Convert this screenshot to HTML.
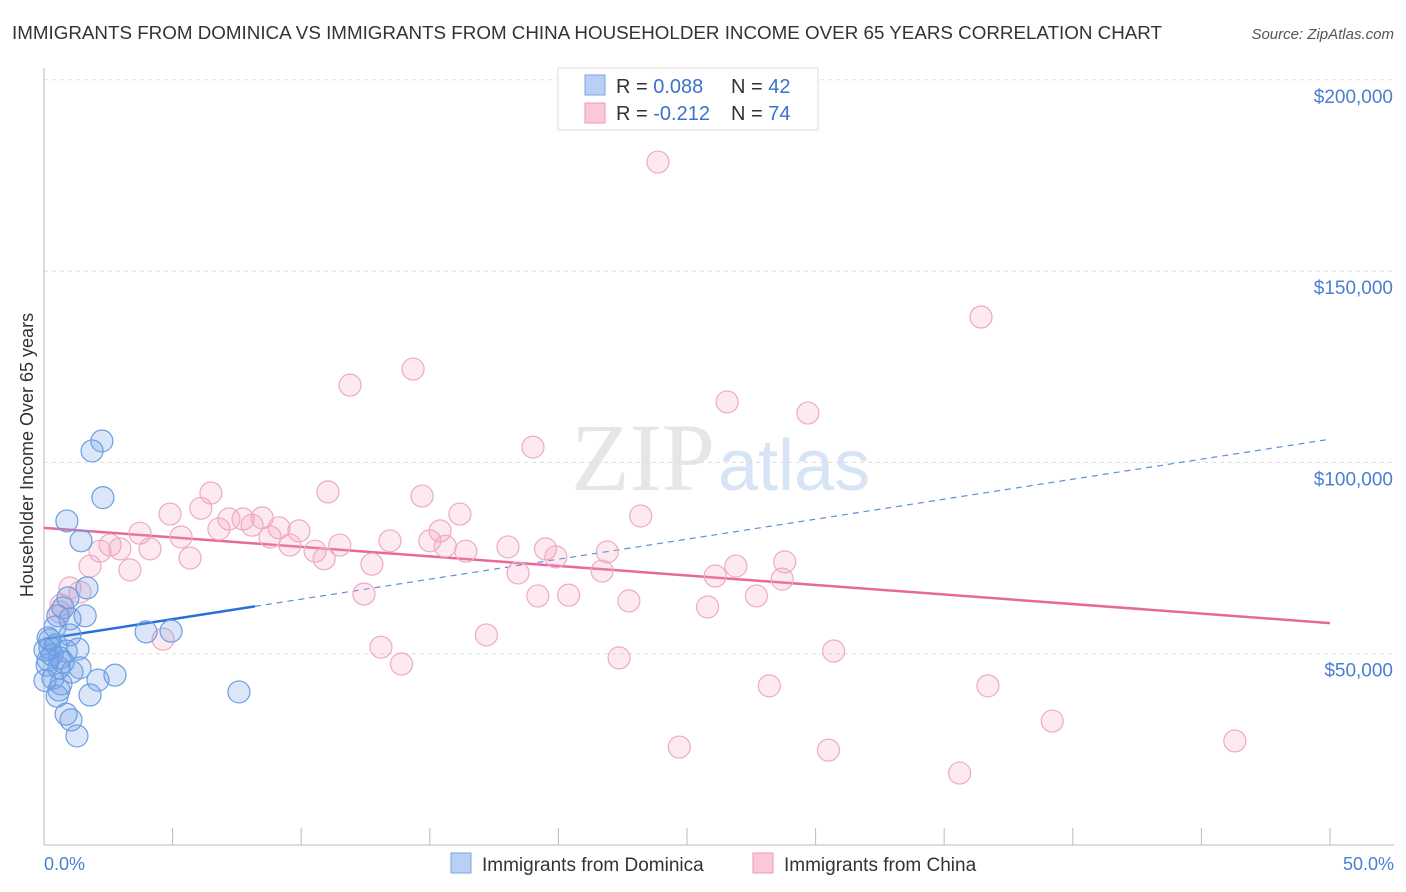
<!DOCTYPE html>
<html><head><meta charset="utf-8">
<style>
body{margin:0;background:#fff;font-family:"Liberation Sans",sans-serif;}
svg{display:block}
</style></head>
<body>
<svg id="chart" width="1406" height="892" xmlns="http://www.w3.org/2000/svg">
<text x="12" y="39" font-size="18" fill="#333" textLength="1150" lengthAdjust="spacingAndGlyphs">IMMIGRANTS FROM DOMINICA VS IMMIGRANTS FROM CHINA HOUSEHOLDER INCOME OVER 65 YEARS CORRELATION CHART</text>
<text x="1394" y="39" font-size="15" fill="#555" font-style="italic" text-anchor="end">Source: ZipAtlas.com</text>
<text x="715" y="490" font-size="96" fill="#e6e6e6" font-family="Liberation Serif" text-anchor="end">ZIP</text>
<text x="718" y="490" font-size="72" fill="#d6e4f5">atlas</text>
<g id="grid"></g>
<g id="axes"></g>
<g id="lines"></g>
<g id="pts"></g>
<text transform="translate(33,455) rotate(-90)" font-size="18" fill="#333" text-anchor="middle">Householder Income Over 65 years</text>
<text x="44" y="870" font-size="18" fill="#4a7fd0">0.0%</text>
<text x="1394" y="870" font-size="18" fill="#4a7fd0" text-anchor="end">50.0%</text>
<g>
<rect x="558" y="68" width="260" height="62" fill="#fff" stroke="#ddd"/>
<rect x="585" y="75" width="20" height="20" fill="#b8d0f4" stroke="#7aa4e0"/>
<rect x="585" y="103" width="20" height="20" fill="#fac8d6" stroke="#ee9ab4"/>
<text x="616" y="93" font-size="20" fill="#333">R = <tspan fill="#3a72cc">0.088</tspan><tspan x="731">N = </tspan><tspan fill="#3a72cc">42</tspan></text>
<text x="616" y="120" font-size="20" fill="#333">R = <tspan fill="#3a72cc">-0.212</tspan><tspan x="731">N = </tspan><tspan fill="#3a72cc">74</tspan></text>
</g>
<g>
<rect x="451" y="853" width="20" height="20" fill="#b8d0f4" stroke="#7aa4e0"/>
<text x="482" y="871" font-size="19" fill="#333">Immigrants from Dominica</text>
<rect x="753" y="853" width="20" height="20" fill="#fac8d6" stroke="#ee9ab4"/>
<text x="784" y="871" font-size="19" fill="#333">Immigrants from China</text>
</g>
</svg>
<script>
const yTicks=[50000,100000,150000,200000];
const yTickLabels=["$50,000","$100,000","$150,000","$200,000"];
const blueX=[2.25,1.87,2.29,0.89,1.44,1.67,0.74,0.93,1.6,1.01,0.54,0.43,1.01,3.97,4.94,0.16,1.32,0.86,0.23,0.16,0.62,0.74,1.09,0.58,2.76,2.1,0.35,0.66,0.58,1.79,0.51,7.58,0.86,1.05,1.28,0.04,0.12,0.23,0.31,0.47,0.04,1.4];
const blueY=[105.6,103,90.8,84.7,79.5,67.2,62,64.6,59.9,59.1,59.9,57,54.9,55.7,55.9,54.1,51.2,50.7,51.5,48.4,48.9,47.8,45.2,46.3,44.4,43.1,43.6,42.1,40.5,39.2,38.9,40,34.2,32.7,28.5,51,47,53.6,49.7,52.3,43,46.3];
const pinkX=[23.87,36.43,14.35,11.9,26.56,29.7,19.01,6.49,11.04,14.7,4.9,6.1,16.17,23.2,7.19,7.74,8.48,8.09,6.8,9.14,9.91,3.73,5.33,8.79,15.4,15.0,13.45,2.57,2.95,4.12,2.18,9.56,11.5,10.54,10.89,15.6,16.4,18.04,19.5,19.9,21.9,5.68,12.75,3.34,1.79,18.43,21.7,26.9,26.1,28.8,28.7,1.01,1.4,12.44,19.2,20.4,22.74,27.7,25.8,0.66,0.62,17.2,4.63,13.1,30.7,13.9,22.36,28.2,36.7,39.2,24.7,30.5,46.3,35.6];
const pinkY=[178.5,138,124.4,120.2,115.8,112.9,104,92,92.3,91.2,86.5,88,86.5,86,85.2,85.2,85.5,83.6,82.6,82.9,82.1,81.5,80.5,80.5,82.1,79.5,79.5,78.4,77.4,77.4,76.8,78.4,78.4,76.8,74.8,78.1,76.8,77.9,77.4,75.3,76.6,75,73.4,71.9,72.9,71.1,71.6,72.9,70.3,74,69.5,67.2,66.1,65.6,65.1,65.3,63.8,65.1,62.2,62.7,60.9,54.9,53.8,51.7,50.7,47.3,48.9,41.6,41.6,32.4,25.6,24.8,27.2,18.8];
const blueTrend=[53.8,105.9];
const pinkTrend=[82.9,58.0];
const NS="http://www.w3.org/2000/svg";
const sx=p=>44+p*25.72;
const sy=v=>845-v*3.826;
function mk(tag,attrs,parent){const e=document.createElementNS(NS,tag);for(const k in attrs)e.setAttribute(k,attrs[k]);document.getElementById(parent).appendChild(e);return e;}
yTicks.forEach((t,i)=>{
 const g=mk('line',{x1:44,x2:1394,y1:sy(t/1000),y2:sy(t/1000),stroke:'#ddd','stroke-dasharray':'4,4'},'grid');
 
 
 const l=mk('text',{x:1393,y:sy(t/1000)+23,'font-size':19,fill:'#4a7fd0','text-anchor':'end'},'axes');
 l.textContent=yTickLabels[i];
 
 
});
const ax=mk('line',{x1:44,x2:44,y1:68,y2:845,stroke:'#bbb'},'axes');


const bx=mk('line',{x1:44,x2:1394,y1:845,y2:845,stroke:'#bbb'},'axes');


for(let i=0;i<=10;i++){
 const t=mk('line',{x1:sx(i*5),x2:sx(i*5),y1:828,y2:845,stroke:'#bbb'},'axes');
 
 
}
function pts(xs,ys,fill,stroke,name){
 xs.forEach((x,i)=>{
  const c=mk('circle',{cx:sx(x),cy:sy(ys[i]),r:11,fill:fill,stroke:stroke,'stroke-width':1.2},'pts');
  
  
 });
}
pts(pinkX,pinkY,'rgba(244,160,188,0.22)','#eeaac2','china-point');
pts(blueX,blueY,'rgba(110,160,232,0.25)','#6c9ee0','dominica-point');
const by=x=>blueTrend[0]+(blueTrend[1]-blueTrend[0])*x/49.84;
const l1=mk('line',{x1:sx(0),y1:sy(by(0)),x2:sx(8.2),y2:sy(by(8.2)),stroke:'#2a6fd6','stroke-width':2.5},'lines');


const l2=mk('line',{x1:sx(8.2),y1:sy(by(8.2)),x2:sx(49.84),y2:sy(by(49.84)),stroke:'#5d8fdb','stroke-width':1.2,'stroke-dasharray':'6,5'},'lines');


const l3=mk('line',{x1:sx(0),y1:sy(pinkTrend[0]),x2:sx(50),y2:sy(pinkTrend[1]),stroke:'#e8689a','stroke-width':2.5},'lines');


</script>
</body></html>
